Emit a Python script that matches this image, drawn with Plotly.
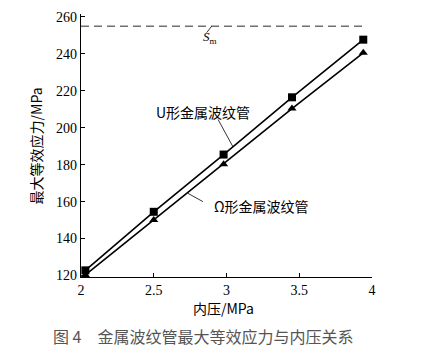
import plotly.graph_objects as go

pressure = [2.03, 2.5, 2.98, 3.45, 3.94]
u_stress = [122.8, 154.5, 185.5, 216.5, 247.7]
omega_stress = [120.3, 150.0, 180.2, 210.4, 240.6]
sm_value = 255
sm_x = [2.0, 3.94]
x_ticks = [2, 2.5, 3, 3.5, 4]
x_tick_labels = ["2", "2.5", "3", "3.5", "4"]
y_ticks = [120, 140, 160, 180, 200, 220, 240, 260]

SERIF = "Liberation Serif, Times New Roman, serif"
CJK = "Noto Sans CJK SC, sans-serif"

fig = go.Figure()
fig.add_trace(go.Scatter(x=sm_x, y=[sm_value] * len(sm_x), mode="lines",
                         line=dict(color="#707070", width=1.6, dash="8px,5px"),
                         showlegend=False, hoverinfo="skip"))
fig.add_trace(go.Scatter(x=pressure, y=u_stress, mode="lines+markers",
                         line=dict(color="black", width=1.6),
                         marker=dict(symbol="square", size=8, color="black"),
                         showlegend=False))
fig.add_trace(go.Scatter(x=pressure, y=omega_stress, mode="lines+markers",
                         line=dict(color="black", width=1.6),
                         marker=dict(symbol="triangle-up", size=8, color="black"),
                         showlegend=False))

# leader lines
leaders = [
    ((2.942, 204.5), (3.045, 189.6)),
    ((2.838, 160.0), (2.735, 164.5)),
    ((2.898, 255.0), (2.864, 251.5)),
]
for (x0, y0), (x1, y1) in leaders:
    fig.add_shape(type="line", x0=x0, y0=y0, x1=x1, y1=y1, xref="x", yref="y",
                  line=dict(color="black", width=0.8))

fig.add_annotation(x=2.838, y=208.8, text="U形金属波纹管", showarrow=False,
                   font=dict(family=CJK, size=14, color="black"))
fig.add_annotation(x=3.24, y=157.8, text="Ω形金属波纹管", showarrow=False,
                   font=dict(family=CJK, size=14, color="black"))
fig.add_annotation(x=2.887, y=249.0, text="<i>S</i><sub>m</sub>", showarrow=False,
                   font=dict(family=SERIF, size=13, color="black"))

fig.add_annotation(xref="paper", yref="paper", x=0.488, y=-0.116, yanchor="middle",
                   text="内压/MPa", showarrow=False,
                   font=dict(family=CJK, size=14, color="black"))
fig.add_annotation(xref="paper", yref="paper", x=-0.155, y=0.5, xanchor="center",
                   text="最大等效应力/MPa", showarrow=False, textangle=-90,
                   font=dict(family=CJK, size=14, color="black"))
fig.add_annotation(xref="paper", yref="paper", x=0.419, y=-0.225, yanchor="middle",
                   text="图 4　金属波纹管最大等效应力与内压关系", showarrow=False,
                   font=dict(family=CJK, size=16, color="#555555"))

fig.update_xaxes(range=[2, 4], tickvals=x_ticks, ticktext=x_tick_labels,
                 ticks="inside", ticklen=4, tickcolor="black", tickwidth=1,
                 showline=True, linecolor="black", linewidth=1.3,
                 showgrid=False, zeroline=False,
                 tickfont=dict(family=SERIF, size=14, color="black"))
fig.update_yaxes(range=[119.2, 261.6], tickvals=y_ticks,
                 ticks="inside", ticklen=4, tickcolor="black", tickwidth=1,
                 showline=True, linecolor="black", linewidth=1.3,
                 showgrid=False, zeroline=False,
                 tickfont=dict(family=SERIF, size=14, color="black"))

fig.update_layout(width=422, height=356, margin=dict(l=81, r=50, t=10, b=79),
                  plot_bgcolor="white", paper_bgcolor="white")

fig.write_html("out.html")
